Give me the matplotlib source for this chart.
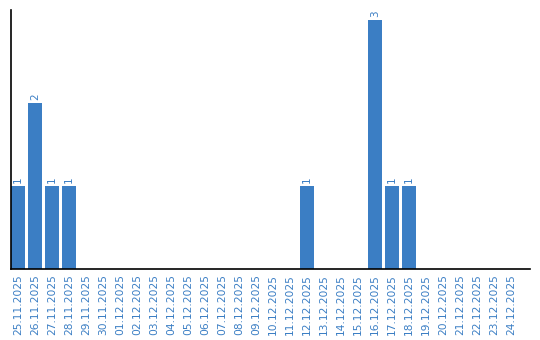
import matplotlib
matplotlib.use('Agg')
import matplotlib.pyplot as plt
import pandas as pd

# daily counts, 25.11.2025 - 24.12.2025
dates = pd.date_range('2025-11-25', '2025-12-24', freq='D')
labels = [d.strftime('%d.%m.%Y') for d in dates]
counts = [1, 2, 1, 1, 0, 0, 0, 0, 0, 0,
          0, 0, 0, 0, 0, 0, 0, 1, 0, 0,
          0, 3, 1, 1, 0, 0, 0, 0, 0, 0]

blue = '#3b7ec4'

fig = plt.figure(figsize=(5.4, 3.4), dpi=100)
ax = fig.add_axes([11 / 540, 71 / 340, 519 / 540, 259 / 340])

x = range(len(labels))
ax.bar(x, counts, width=0.82, color=blue)

for i, v in enumerate(counts):
    if v > 0:
        ax.text(i, v + 0.03, str(v), rotation=90, ha='center', va='bottom',
                color=blue, fontsize=7.5)

ax.set_xticks(list(x))
ax.set_xticklabels(labels, rotation=90, color=blue, fontsize=7.7)
ax.tick_params(axis='x', length=0, pad=4)
ax.set_yticks([])
ax.set_xlim(-0.41, 30.1)
ax.set_ylim(0, 3.12)

for side in ['top', 'right']:
    ax.spines[side].set_visible(False)
ax.spines['left'].set_color('black')
ax.spines['bottom'].set_color('black')
ax.spines['left'].set_linewidth(1.2)
ax.spines['bottom'].set_linewidth(1.2)

fig.savefig('out.png', dpi=100)
